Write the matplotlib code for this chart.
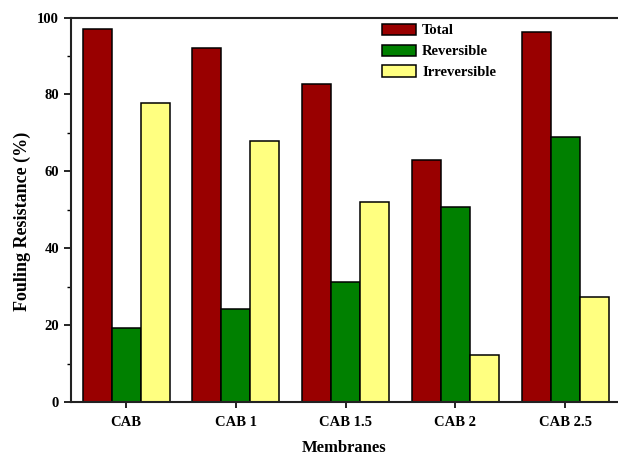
import numpy as np
import matplotlib
matplotlib.use("Agg")
import matplotlib.pyplot as plt
from matplotlib.ticker import MultipleLocator

# fouling resistance per membrane (%)
membranes = ["CAB", "CAB 1", "CAB 1.5", "CAB 2", "CAB 2.5"]
total = [97.0, 92.1, 82.6, 62.9, 96.2]
reversible = [19.3, 24.3, 31.1, 50.6, 68.9]
irreversible = [77.8, 67.9, 52.0, 12.3, 27.3]

plt.rcParams["font.family"] = "Liberation Serif"
plt.rcParams["font.weight"] = "bold"

fig = plt.figure(figsize=(6.18, 4.55), dpi=100)
ax = fig.add_axes([0.1144, 0.1165, 0.8856, 0.845])

x = np.arange(len(membranes))
w = 0.264
ax.bar(x - w, total, w, color="#990000", edgecolor="black", linewidth=1.1, label="Total")
ax.bar(x, reversible, w, color="#008000", edgecolor="black", linewidth=1.1, label="Reversible")
ax.bar(x + w, irreversible, w, color="#ffff80", edgecolor="black", linewidth=1.1, label="Irreversible")

ax.set_xlim(-0.504, 4.48)
ax.set_ylim(0, 100)
ax.set_xticks(x)
ax.set_xticklabels(membranes, fontsize=10.5, fontweight="bold")
ax.yaxis.set_major_locator(MultipleLocator(20))
ax.yaxis.set_minor_locator(MultipleLocator(10))
ax.tick_params(axis="y", which="major", direction="out", length=5, width=1.2, labelsize=10.5)
ax.tick_params(axis="y", which="minor", direction="out", length=3, width=1.0)
ax.tick_params(axis="x", direction="out", length=4, width=1.2, pad=6)
for lbl in ax.get_yticklabels():
    lbl.set_fontweight("bold")

for side in ["left", "bottom", "top"]:
    ax.spines[side].set_linewidth(1.5)
    ax.spines[side].set_color("#222222")
ax.spines["right"].set_visible(False)

ax.set_xlabel("Membranes", fontsize=12, fontweight="bold", labelpad=8)
ax.set_ylabel("Fouling Resistance (%)", fontsize=13, fontweight="bold")
ax.yaxis.set_label_coords(-0.073, 0.47)

ax.legend(loc="upper left", bbox_to_anchor=(0.597, 0.977), bbox_transform=fig.transFigure,
          frameon=False, handlelength=2.3, handleheight=0.8,
          handletextpad=0.45, labelspacing=0.5, prop={"weight": "bold", "size": 10.5})

fig.savefig("out.png", dpi=100)
